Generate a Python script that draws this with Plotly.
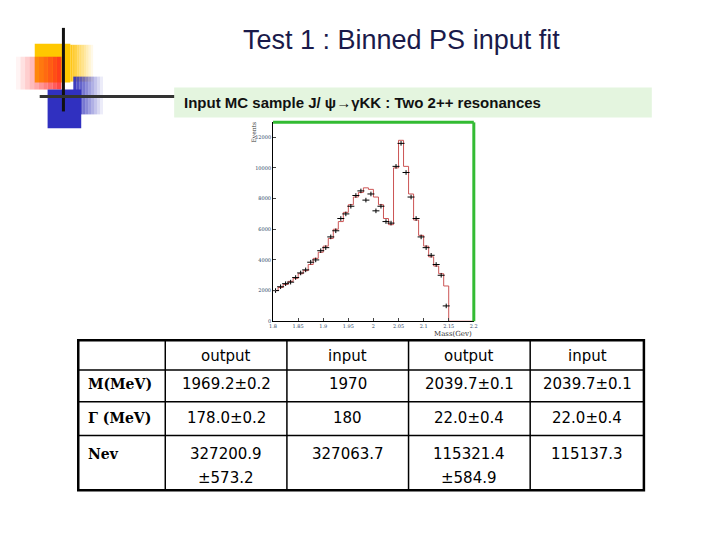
import plotly.graph_objects as go

# ---- data ----
bin_left = [1.80, 1.81, 1.82, 1.83, 1.84, 1.85, 1.86, 1.87, 1.88, 1.89,
            1.90, 1.91, 1.92, 1.93, 1.94, 1.95, 1.96, 1.97, 1.98, 1.99,
            2.00, 2.01, 2.02, 2.03, 2.04, 2.05, 2.06, 2.07, 2.08, 2.09,
            2.10, 2.11, 2.12, 2.13, 2.14]
fit_vals = [2000, 2200, 2400, 2600, 2800, 3100, 3300, 3700, 4100, 4500,
            4900, 5400, 6000, 6500, 7100, 7600, 8100, 8400, 8700, 8600,
            8100, 7600, 6700, 6300, 10000, 11800, 10100, 8300, 6600, 5600,
            4900, 4200, 3600, 3100, 2300]
data_vals = [2000, 2250, 2450, 2550, 2850, 3150, 3350, 3850, 4000, 4600,
             4800, 5500, 5900, 6700, 7000, 7500, 8200, 8500, 7900, 8300,
             7200, 7500, 6500, 6400, 10100, 11600, 9700, 8100, 6700, 5500,
             4800, 4300, 3700, 3000, 1000]
x_ticks = [1.8, 1.85, 1.9, 1.95, 2.0, 2.05, 2.1, 2.15, 2.2]
y_ticks = [0, 2000, 4000, 6000, 8000, 10000, 12000]

col_headers = ["", "output", "input", "output", "input"]
row_labels = ["M(MeV)", "Γ (MeV)", "Nev"]
table_rows = [
    ["1969.2±0.2", "1970", "2039.7±0.1", "2039.7±0.1"],
    ["178.0±0.2", "180", "22.0±0.4", "22.0±0.4"],
    ["327200.9|±573.2", "327063.7", "115321.4|±584.9", "115137.3"],
]

W, H = 720, 540
OFF = 8
def px(x): return (x - OFF) / W
def py(y): return 1 - (y - OFF) / H

fig = go.Figure()
step_x = bin_left + [2.15, 2.2]
step_y = fit_vals + [0, 0]
fig.add_trace(go.Scatter(x=step_x, y=step_y, mode="lines", line_shape="hv",
                         line=dict(color="#cc5555", width=1), hoverinfo="skip"))
centers = [b + 0.005 for b in bin_left]
fig.add_trace(go.Scatter(x=centers, y=data_vals, mode="markers",
                         marker=dict(symbol="line-ew", size=5, color="black",
                                     line=dict(width=1, color="black")),
                         error_y=dict(type="constant", value=150, thickness=1, width=0, color="black")))

shapes = []
annos = []

def rect(x0, y0, x1, y1, fill, opacity=1.0, lw=0, lc="black"):
    shapes.append(dict(type="rect", xref="paper", yref="paper", x0=px(x0), x1=px(x1),
                       y0=py(y1), y1=py(y0), fillcolor=fill, opacity=opacity,
                       line=dict(width=lw, color=lc), layer="below"))

def line(x0, y0, x1, y1, color="black", w=1, layer="above"):
    shapes.append(dict(type="line", xref="paper", yref="paper", x0=px(x0), x1=px(x1),
                       y0=py(y0), y1=py(y1), line=dict(color=color, width=w), layer=layer))

def text(x, y, t, font, xa="center", ya="middle", **kw):
    annos.append(dict(x=px(x), y=py(y), xref="paper", yref="paper", text=t, showarrow=False,
                      xanchor=xa, yanchor=ya, font=font, **kw))

# decorative squares
N = 10
for i in range(N):
    rect(67 + i * 2.3, 45, 67 + (i + 1) * 2.3, 82, "#ffc000", opacity=0.9 * (1 - i / N))
rect(31, 44, 67, 83, "#ffc800")
for i in range(N):
    rect(12 + i * 4.6, 57, 12 + (i + 1) * 4.6, 90, "#ff2020", opacity=0.05 + 0.85 * i / N)
for i in range(N):
    rect(70 + i * 3, 77, 70 + (i + 1) * 3, 115, "#3333bb", opacity=0.95 * (1 - i / N))
rect(44, 90, 78, 129, "#3030c0")
line(60, 28, 60, 112, "#111111", 3)
line(36, 97, 172, 97, "#333333", 3)

text(402, 40, "Test 1 : Binned PS input fit",
     dict(family="Liberation Sans", size=27, color="#1a1a4a"))
rect(172, 88, 655, 118, "#e4f5df")
text(180, 103, "<b>Input MC sample J/ ψ→γKK : Two 2++ resonances</b>",
     dict(family="Liberation Sans", size=15, color="#111111"), xa="left")

line(272, 123, 475, 123, "#33bb33", 3)
line(475, 123, 475, 323, "#33bb33", 3)
text(252, 133, "Events", dict(family="DejaVu Serif", size=6, color="#333"), textangle=-90)
text(475, 336, "Mass(Gev)", dict(family="DejaVu Serif", size=7, color="#333"), xa="right")

cols = [75, 163, 286, 409, 532, 647]
rows = [342, 372, 404, 438, 493]
for x in cols[1:-1]:
    line(x, rows[0], x, rows[-1], "black", 1.5)
for y in rows[1:-1]:
    line(cols[0], y, cols[-1], y, "black", 1.5)
rect(cols[0], rows[0], cols[-1], rows[-1], "rgba(0,0,0,0)", lw=2.5)
shapes[-1]["layer"] = "above"
cell_font = dict(family="DejaVu Sans", size=15, color="black")
for j, h in enumerate(col_headers):
    if h:
        text((cols[j] + cols[j + 1]) / 2, 358, h, cell_font)
label_y = [386, 420, 456]
for i, lab in enumerate(row_labels):
    text(83, label_y[i], "<b>" + lab + "</b>",
         dict(family="DejaVu Serif", size=14, color="black"), xa="left")
    for j, v in enumerate(table_rows[i]):
        cx = (cols[j + 1] + cols[j + 2]) / 2
        parts = v.split("|")
        text(cx, label_y[i], parts[0], cell_font)
        if len(parts) > 1:
            text(cx, 481, parts[1], cell_font)

fig.update_layout(
    width=W, height=H, margin=dict(l=0, r=0, t=0, b=0),
    paper_bgcolor="white", plot_bgcolor="white", showlegend=False,
    shapes=shapes, annotations=annos,
    xaxis=dict(domain=[px(272), px(475)], range=[1.8, 2.2], tickvals=x_ticks,
               ticktext=["1.8", "1.85", "1.9", "1.95", "2", "2.05", "2.1", "2.15", "2.2"],
               ticks="inside", ticklen=3, showgrid=False, zeroline=False, showline=True,
               linecolor="black", linewidth=1, tickfont=dict(size=5, family="DejaVu Serif")),
    yaxis=dict(domain=[py(323), py(123)], range=[0, 12970], tickvals=y_ticks,
               ticktext=["0", "2000", "4000", "6000", "8000", "10000", "12000"],
               ticks="inside", ticklen=3, showgrid=False, zeroline=False, showline=True,
               linecolor="black", linewidth=1, tickfont=dict(size=5, family="DejaVu Serif")),
)
fig.write_html("out.html")
